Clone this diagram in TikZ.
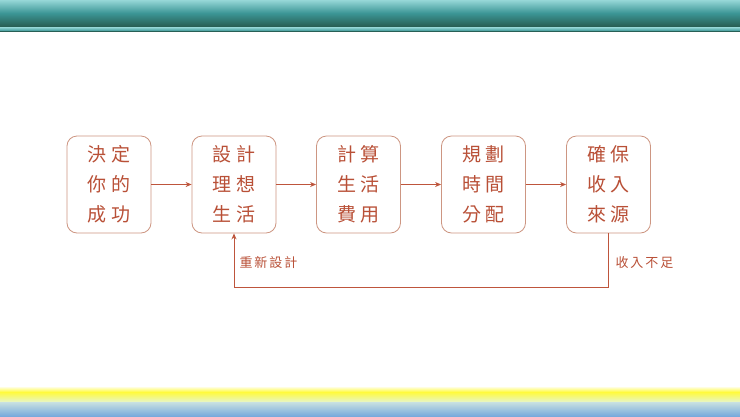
\documentclass[tikz,border=0pt]{standalone}
\usepackage{fontspec}
\newfontfamily\cjk[LetterSpace=25]{Noto Sans CJK TC}
\newfontfamily\cjks[LetterSpace=15]{Noto Sans CJK TC}
\definecolor{txt}{RGB}{185,80,55}
\definecolor{bd}{RGB}{205,150,130}
\definecolor{ln}{RGB}{190,85,60}
\definecolor{tealD}{RGB}{40,95,85}
\definecolor{tealL}{RGB}{150,215,215}
\definecolor{tealM}{RGB}{60,150,150}
\usetikzlibrary{arrows.meta}
\tikzset{stepbox/.style={draw=bd,line width=0.8pt,rounded corners=10pt,minimum width=84pt,minimum height=97pt,inner sep=0pt,align=center,text=txt,font=\cjk\fontsize{19}{30}\selectfont},
conn/.style={draw=ln,line width=1pt,-{Stealth[length=6pt,width=5pt]}},
lbl/.style={text=txt,font=\cjks\fontsize{13}{15}\selectfont}}
\begin{document}
\begin{tikzpicture}[x=1pt,y=-1pt]
\useasboundingbox (0,0) rectangle (740,416);
\fill[white] (0,0) rectangle (740,416);
\shade[top color=tealL,bottom color=tealD,middle color=tealM] (0,0) rectangle (740,26);
\fill[tealD] (0,26) rectangle (740,27);
\shade[top color=tealL,bottom color=tealM] (0,27) rectangle (740,31);
\fill[tealD] (0,31) rectangle (740,32);
\shade[top color=white,bottom color={rgb,255:red,255;green,250;blue,60}] (0,386) rectangle (740,392);
\shade[top color={rgb,255:red,255;green,250;blue,60},bottom color={rgb,255:red,230;green,245;blue,200}] (0,392) rectangle (740,402);
\shade[top color={rgb,255:red,200;green,225;blue,225},bottom color={rgb,255:red,120;green,170;blue,220}] (0,402) rectangle (740,416);
\node[stepbox] (a) at (109,184.5) {決定\\你的\\成功};
\node[stepbox] (b) at (234,184.5) {設計\\理想\\生活};
\node[stepbox] (c) at (358.5,184.5) {計算\\生活\\費用};
\node[stepbox] (d) at (483.5,184.5) {規劃\\時間\\分配};
\node[stepbox] (e) at (608.5,184.5) {確保\\收入\\來源};
\draw[conn] (a) -- (b);
\draw[conn] (b) -- (c);
\draw[conn] (c) -- (d);
\draw[conn] (d) -- (e);
\coordinate (k1) at (608.5,287);
\coordinate (k2) at (234,287);
\draw[conn] (e.south) -- (k1) -- (k2) -- (b.south);
\node[lbl,anchor=west] (l1) at (236,263) {重新設計};
\node[lbl,anchor=west] (l2) at (612,263) {收入不足};
\end{tikzpicture}
\end{document}
